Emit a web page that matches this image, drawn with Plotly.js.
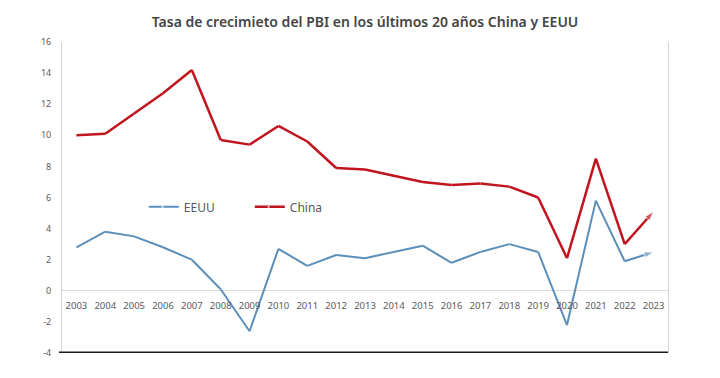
<!DOCTYPE html>
<html>
<head>
<meta charset="utf-8">
<script src="https://cdn.plot.ly/plotly-3.0.1.min.js"></script>
<style>
html,body{margin:0;padding:0;background:#fff;}
#chart{width:720px;height:378px;}
</style>
</head>
<body>
<div id="chart"></div>
<script>
const years = ["2003","2004","2005","2006","2007","2008","2009","2010","2011","2012","2013","2014","2015","2016","2017","2018","2019","2020","2021","2022","2023"];
const eeuu = [2.8,3.8,3.5,2.8,2.0,0.1,-2.6,2.7,1.6,2.3,2.1,2.5,2.9,1.8,2.5,3.0,2.5,-2.2,5.8,1.9,2.5];
const china = [10.0,10.1,11.4,12.7,14.2,9.7,9.4,10.6,9.6,7.9,7.8,7.4,7.0,6.8,6.9,6.7,6.0,2.1,8.5,3.0,5.1];
const yTicks = [-4,-2,0,2,4,6,8,10,12,14,16];

function arrowSizes(arr){ return arr.map((v,i)=> i===arr.length-1 ? 10 : 0); }

const traces = [
  {
    x: years, y: eeuu, name: "EEUU", type: "scatter", mode: "lines+markers",
    line: {color: "#5b8fba", width: 2},
    marker: {symbol: "arrow", angleref: "previous", size: arrowSizes(eeuu), color: "#5b8fba"}
  },
  {
    x: years, y: china, name: "China", type: "scatter", mode: "lines+markers",
    line: {color: "#c0141f", width: 2.5},
    marker: {symbol: "arrow", angleref: "previous", size: arrowSizes(china), color: "#c0141f"}
  }
];

const layout = {
  width: 720, height: 378,
  margin: {l: 62, r: 52, t: 42, b: 25},
  paper_bgcolor: "#ffffff", plot_bgcolor: "#ffffff",
  font: {family: "Noto Sans, sans-serif", color: "#595959"},
  title: {
    text: "Tasa de crecimieto del PBI en los últimos 20 años China y EEUU",
    font: {family: "Noto Sans, sans-serif", size: 14, color: "#444444", weight: 600},
    x: 0.5, xref: "paper", xanchor: "center",
    y: 0.942, yref: "container", yanchor: "middle"
  },
  xaxis: {
    type: "category", range: [-0.5, 20.5],
    anchor: "free", position: 0.2,
    showline: false, showgrid: false, zeroline: false, ticks: "",
    tickfont: {size: 9.5, color: "#595959"}, ticklabelstandoff: 8,
    fixedrange: true
  },
  yaxis: {
    range: [-4, 16], tickvals: yTicks, ticktext: yTicks.map(String),
    showgrid: false, zeroline: true, zerolinecolor: "#dcdcdc", zerolinewidth: 1,
    showline: true, linecolor: "#d4d4d4", linewidth: 1, mirror: true,
    ticks: "", tickfont: {size: 9, color: "#595959"}, ticklabelstandoff: 8,
    fixedrange: true
  },
  legend: {
    orientation: "h", x: 0.135, xanchor: "left", y: 0.47, yanchor: "middle",
    bgcolor: "rgba(0,0,0,0)", font: {size: 12, color: "#595959"},
    entrywidth: 61, entrywidthmode: "pixels", itemwidth: 30
  },
  shapes: [
    {type: "line", xref: "paper", yref: "y", x0: -0.005, x1: 1.0, y0: -4, y1: -4,
     line: {color: "#1a1a1a", width: 3}}
  ]
};

Plotly.newPlot("chart", traces, layout, {displayModeBar: false, staticPlot: true});
</script>
</body>
</html>
